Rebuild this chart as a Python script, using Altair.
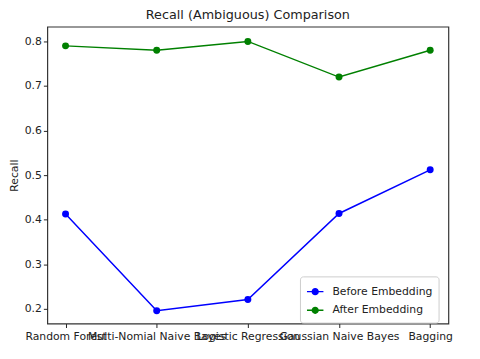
import altair as alt
import pandas as pd

models = ["Random Forest", "Multi-Nomial Naive Bayes", "Logistic Regression", "Gaussian Naive Bayes", "Bagging"]
before = [0.413, 0.196, 0.221, 0.414, 0.512]
after = [0.79, 0.78, 0.80, 0.72, 0.78]
series = ["Before Embedding", "After Embedding"]
colors = ["#0000ff", "#008000"]

rows = []
for m, b, a in zip(models, before, after):
    rows.append({"model": m, "recall": b, "series": series[0]})
    rows.append({"model": m, "recall": a, "series": series[1]})
df = pd.DataFrame(rows)

font = "DejaVu Sans"
sym = "M -1 0 L -0.35 0 M 0.35 0 L 1 0 M -0.35 0 A 0.35 0.35 0 1 1 0.35 0 A 0.35 0.35 0 1 1 -0.35 0 Z"

base = alt.Chart(df).encode(
    x=alt.X("model:N", sort=models, title=None,
            scale=alt.Scale(type="point", padding=0.2),
            axis=alt.Axis(labelAngle=0, labelOverlap=False, labelFont=font, labelFontSize=11,
                          labelColor="#222", tickColor="#222", domain=False, grid=False,
                          tickSize=4, labelPadding=3)),
    y=alt.Y("recall:Q", title="Recall",
            scale=alt.Scale(domain=[0.167, 0.833], nice=False, zero=False),
            axis=alt.Axis(values=[0.2, 0.3, 0.4, 0.5, 0.6, 0.7, 0.8], format=".1f", labelFont=font,
                          labelFontSize=11, labelColor="#222", tickColor="#222", domain=False,
                          grid=False, tickSize=4, titleFont=font, titleFontSize=11,
                          titleFontWeight="normal", titleColor="#222", titlePadding=5)),
    color=alt.Color("series:N", sort=series,
                    scale=alt.Scale(domain=series, range=colors),
                    legend=alt.Legend(title=None, orient="none", legendX=257, legendY=254,
                                      symbolType=sym, symbolSize=280, symbolStrokeWidth=1.5,
                                      labelFont=font, labelFontSize=11, labelColor="#222",
                                      fillColor="white", strokeColor="#cccccc", padding=6,
                                      cornerRadius=3, rowPadding=3, labelOffset=8)),
)

lines = base.mark_line(strokeWidth=1.5)
pts = base.mark_circle(size=50, opacity=1)

chart = alt.layer(lines, pts).properties(
    width=408, height=302,
    title=alt.TitleParams("Recall (Ambiguous) Comparison", font=font, fontSize=13,
                          fontWeight="normal", color="#222", offset=5),
    autosize=alt.AutoSizeParams(type="none"),
    padding={"left": 40, "top": 16, "right": 24, "bottom": 33},
    background="white",
).configure_view(stroke="#333333", strokeWidth=1.2)

chart.save("out.html", embed_options={"renderer": "svg", "actions": False})
